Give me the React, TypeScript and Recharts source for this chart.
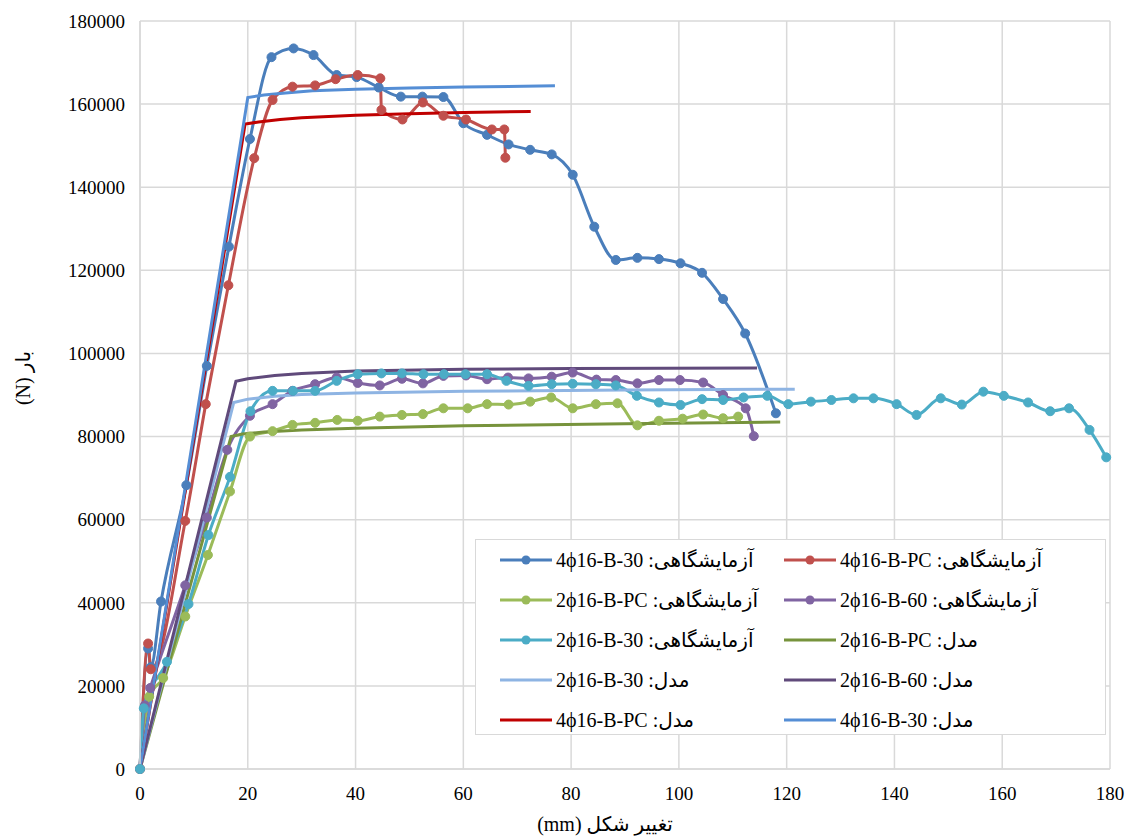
import { LineChart, Line, XAxis, YAxis, CartesianGrid, Legend, Label } from 'recharts';

type Pt = { x: number; y: number };
const pts = (rows: number[][]): Pt[] => rows.map(([x, y]) => ({ x, y }));

// test curves (load vs. displacement)
const exp4B30 = pts([
  [0, 0], [1.5, 29000], [2.0, 24500], [3.9, 40300], [8.6, 68300], [12.4, 97000], [16.5, 125700],
  [20.4, 151600], [24.4, 171300], [28.5, 173400], [32.2, 171800], [36.5, 167000], [40.2, 166500],
  [44.3, 164000], [48.4, 161800], [52.4, 161800], [56.3, 161700], [60.0, 155400], [64.4, 152600],
  [68.4, 150300], [72.4, 149000], [76.4, 147900], [80.3, 143000], [84.3, 130500], [88.3, 122500],
  [92.3, 123000], [96.3, 122700], [100.3, 121700], [104.3, 119400], [108.2, 113100], [112.3, 104800],
  [118.0, 85600],
]);
const exp4BPC = pts([
  [0, 0], [1.5, 30200], [2.0, 24000], [8.4, 59700], [12.2, 87800], [16.4, 116400], [21.2, 147000],
  [24.6, 161000], [28.3, 164200], [32.5, 164500], [36.3, 166000], [40.4, 167000], [44.6, 166200],
  [44.8, 158600], [48.7, 156300], [52.5, 160400], [56.3, 157200], [60.5, 156300], [65.3, 153900],
  [67.6, 153900], [67.8, 147100],
]);
const exp2BPC = pts([
  [0, 0], [1.7, 17400], [4.3, 21900], [8.4, 36700], [12.6, 51500], [16.7, 66800], [20.4, 80000],
  [24.6, 81300], [28.3, 82800], [32.5, 83300], [36.6, 84000], [40.4, 83800], [44.5, 84800],
  [48.6, 85200], [52.5, 85400], [56.3, 86800], [60.8, 86800], [64.4, 87800], [68.4, 87700],
  [72.4, 88400], [76.3, 89400], [80.3, 86800], [84.6, 87800], [88.6, 88000], [92.3, 82700],
  [96.3, 83800], [100.7, 84300], [104.5, 85300], [108.2, 84400], [111.0, 84800],
]);
const exp2B60 = pts([
  [0, 0], [0.9, 15300], [1.9, 19500], [8.4, 44200], [12.4, 60500], [16.2, 76800], [20.4, 85000],
  [24.6, 87800], [28.3, 91000], [32.5, 92600], [36.5, 94200], [40.4, 92900], [44.5, 92300],
  [48.6, 93900], [52.5, 92800], [56.3, 94600], [60.5, 94700], [64.4, 93800], [68.3, 94200],
  [72.1, 94000], [76.4, 94400], [80.3, 95400], [84.7, 93700], [88.3, 93600], [92.3, 92800],
  [96.3, 93600], [100.2, 93600], [104.5, 93000], [108.2, 90000], [112.4, 86800], [113.9, 80100],
]);
const exp2B30 = pts([
  [0, 0], [0.7, 14600], [5.0, 25800], [9.0, 39700], [12.7, 56300], [16.7, 70300], [20.5, 86100],
  [24.6, 91000], [28.4, 91000], [32.5, 91000], [36.5, 93400], [40.4, 95000], [44.8, 95200],
  [48.6, 95200], [52.6, 95000], [56.4, 95000], [60.4, 95000], [64.4, 95000], [68.0, 93400],
  [72.1, 92200], [76.4, 92600], [80.3, 92700], [84.6, 92600], [88.3, 92300], [92.2, 89800],
  [96.3, 88200], [100.3, 87600], [104.3, 89000], [108.2, 88800], [112.0, 89400], [116.4, 89800],
  [120.3, 87800], [124.5, 88400], [128.3, 88800], [132.4, 89200], [136.1, 89200], [140.4, 87800],
  [144.1, 85200], [148.6, 89200], [152.5, 87700], [156.5, 90800], [160.3, 89800], [164.8, 88200],
  [168.9, 86100], [172.4, 86800], [176.2, 81600], [179.3, 75000],
]);

// model curves: straight elastic branch, sharp knee, then slowly hardening plateau
const mod2BPC = pts([[0, 0], [16.9, 80000], [19, 80600], [23, 81100], [30, 81600], [40, 82000], [60, 82600], [90, 83100], [118.8, 83500]]);
const mod2B30 = pts([[0, 0], [17.4, 88200], [20, 89000], [25, 89700], [30, 90100], [40, 90500], [60, 90900], [90, 91200], [121.5, 91400]]);
const mod2B60 = pts([[0, 0], [17.8, 93300], [20, 93900], [25, 94700], [30, 95200], [40, 95800], [60, 96200], [80, 96400], [114.5, 96500]]);
const mod4BPC = pts([[0, 0], [19.5, 155200], [22, 155700], [26, 156300], [30, 156700], [40, 157300], [50, 157700], [60, 158000], [72.5, 158200]]);
const mod4B30 = pts([[0, 0], [20, 161600], [23, 162200], [27, 162700], [32, 163200], [40, 163600], [50, 163900], [60, 164100], [77, 164400]]);

const xTicks = [0, 20, 40, 60, 80, 100, 120, 140, 160, 180];
const yTicks = [0, 20000, 40000, 60000, 80000, 100000, 120000, 140000, 160000, 180000];

const EXP = 'آزمایشگاهی: ';
const MOD = 'مدل: ';

const series = [
  { name: EXP + '4ϕ16-B-30', data: exp4B30, color: '#4A7EBB', dots: true },
  { name: EXP + '4ϕ16-B-PC', data: exp4BPC, color: '#C0504D', dots: true },
  { name: EXP + '2ϕ16-B-PC', data: exp2BPC, color: '#9BBB59', dots: true },
  { name: EXP + '2ϕ16-B-60', data: exp2B60, color: '#8064A2', dots: true },
  { name: EXP + '2ϕ16-B-30', data: exp2B30, color: '#4BACC6', dots: true },
  { name: MOD + '2ϕ16-B-PC', data: mod2BPC, color: '#77933C', dots: false },
  { name: MOD + '2ϕ16-B-30', data: mod2B30, color: '#8EB4E3', dots: false },
  { name: MOD + '2ϕ16-B-60', data: mod2B60, color: '#604A7B', dots: false },
  { name: MOD + '4ϕ16-B-PC', data: mod4BPC, color: '#C00000', dots: false },
  { name: MOD + '4ϕ16-B-30', data: mod4B30, color: '#558ED5', dots: false },
];

const FONT = "'Times New Roman', 'Liberation Serif', 'DejaVu Serif', 'DejaVu Sans', serif";
const GRID = '#D9D9D9';

function LegendBox() {
  return (
    <div
      style={{
        width: 631,
        height: 196,
        border: `1.5px solid ${GRID}`,
        background: '#fff',
        display: 'grid',
        gridTemplateColumns: '284px 284px',
        gridAutoRows: 40,
        paddingLeft: 24,
        boxSizing: 'border-box',
        fontFamily: FONT,
        fontSize: 20,
        color: '#000',
      }}
    >
      {series.map(s => (
        <div key={s.name} style={{ display: 'flex', alignItems: 'center', height: 40 }}>
          <svg width={56} height={14} style={{ flex: 'none' }}>
            <line x1={0} y1={7} x2={52} y2={7} stroke={s.color} strokeWidth={3} />
            {s.dots && <circle cx={26} cy={7} r={4.5} fill={s.color} />}
          </svg>
          <span dir="rtl" style={{ whiteSpace: 'nowrap' }}>{s.name}</span>
        </div>
      ))}
    </div>
  );
}

export default function App() {
  return (
    <div style={{ position: 'absolute', left: 0, top: 0, width: 1128, height: 839, background: '#fff' }}>
      <LineChart width={1128} height={839} margin={{ top: 21, right: 18, bottom: 40, left: 60 }}>
        <CartesianGrid stroke={GRID} strokeWidth={1.5} />
        <XAxis
          type="number"
          dataKey="x"
          domain={[0, 180]}
          ticks={xTicks}
          height={30}
          tickLine={false}
          tickMargin={12}
          axisLine={{ stroke: GRID, strokeWidth: 1.5 }}
          tick={{ fill: '#000', fontSize: 19, fontFamily: FONT }}
        >
          <Label
            content={() => (
              <text x={605} y={831} textAnchor="middle" direction="rtl" fontSize={20} fontFamily={FONT} fill="#000">
                تغییر شکل (mm)
              </text>
            )}
          />
        </XAxis>
        <YAxis
          type="number"
          domain={[0, 180000]}
          ticks={yTicks}
          width={80}
          tickLine={false}
          tickMargin={9}
          axisLine={{ stroke: GRID, strokeWidth: 1.5 }}
          tick={{ fill: '#000', fontSize: 19, fontFamily: FONT }}
        >
          <Label
            content={() => (
              <text x={30} y={378} transform="rotate(-90 30 378)" textAnchor="middle" direction="rtl" fontSize={20} fontFamily={FONT} fill="#000">
                بار (N)
              </text>
            )}
          />
        </YAxis>
        <Legend
          layout="horizontal"
          verticalAlign="middle"
          align="center"
          wrapperStyle={{ left: 475, top: 539, width: 631, height: 196 }}
          content={() => <LegendBox />}
        />
        {series.map(s => (
          <Line
            key={s.name}
            data={s.data}
            dataKey="y"
            name={s.name}
            type={s.dots ? 'monotone' : 'linear'}
            stroke={s.color}
            strokeWidth={3}
            dot={s.dots ? { r: 4.5, fill: s.color, stroke: s.color, strokeWidth: 1 } : false}
            activeDot={false}
            isAnimationActive={false}
          />
        ))}
      </LineChart>
    </div>
  );
}
